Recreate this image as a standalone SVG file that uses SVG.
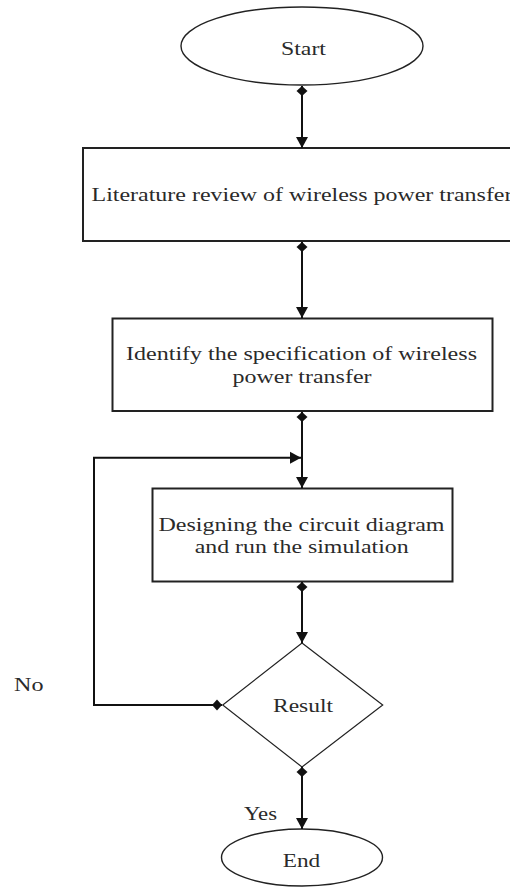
<svg xmlns="http://www.w3.org/2000/svg" width="510" height="888" viewBox="0 0 510 888">
  <style>
    .shape { fill: #ffffff; stroke: #222222; }
    .box { stroke-width: 2; }
    .oval { stroke-width: 1.4; }
    .dec { stroke-width: 1.2; }
    .conn { fill: none; stroke: #111111; stroke-width: 2; }
    .lbl { font-family: "Liberation Serif", "Times New Roman", serif; font-size: 18.5px; fill: #2a2a2a; }
    .mid { text-anchor: middle; }
  </style>
  <defs>
    <marker id="dia" markerUnits="userSpaceOnUse" markerWidth="12" markerHeight="14" refX="0" refY="6" orient="auto" viewBox="0 0 12 12" overflow="visible">
      <path d="M0,6 L5,0.5 L10,6 L5,11.5 Z" fill="#111111"/>
    </marker>
    <marker id="arr" markerUnits="userSpaceOnUse" markerWidth="12" markerHeight="14" refX="11" refY="6" orient="auto" viewBox="0 0 12 12" overflow="visible">
      <path d="M0,0 L11,6 L0,12 Z" fill="#111111"/>
    </marker>
  </defs>

  <rect width="510" height="888" fill="#ffffff"/>

  <g id="start">
    <ellipse class="shape oval" cx="302" cy="46" rx="121" ry="39"/>
    <text class="lbl mid" x="303.5" y="54.5" textLength="45" lengthAdjust="spacingAndGlyphs">Start</text>
  </g>

  <g id="literature">
    <rect class="shape box" x="83" y="148" width="440" height="93"/>
    <text class="lbl mid" x="302" y="201" textLength="421" lengthAdjust="spacingAndGlyphs">Literature review of wireless power transfer</text>
  </g>

  <g id="identify">
    <rect class="shape box" x="112.5" y="318.5" width="380" height="92.5"/>
    <text class="lbl mid" x="301.5" y="359.5" textLength="351" lengthAdjust="spacingAndGlyphs">Identify the specification of wireless</text>
    <text class="lbl mid" x="302" y="382.5" textLength="139" lengthAdjust="spacingAndGlyphs">power transfer</text>
  </g>

  <g id="design">
    <rect class="shape box" x="152.5" y="488.5" width="300" height="93"/>
    <text class="lbl mid" x="301.5" y="530.5" textLength="286" lengthAdjust="spacingAndGlyphs">Designing the circuit diagram</text>
    <text class="lbl mid" x="301.7" y="553" textLength="214" lengthAdjust="spacingAndGlyphs">and run the simulation</text>
  </g>

  <g id="result">
    <polygon class="shape dec" points="302,643 382.7,705 302,767 222.7,705"/>
    <text class="lbl mid" x="303" y="711.5" textLength="60" lengthAdjust="spacingAndGlyphs">Result</text>
  </g>

  <g id="end">
    <ellipse class="shape oval" cx="302" cy="857.5" rx="80.5" ry="28.5"/>
    <text class="lbl mid" x="301.5" y="866.5" textLength="37.5" lengthAdjust="spacingAndGlyphs">End</text>
  </g>

  <g id="connectors">
    <path class="conn" d="M302,86 L302,148" marker-start="url(#dia)" marker-end="url(#arr)"/>
    <path class="conn" d="M302,242 L302,318" marker-start="url(#dia)" marker-end="url(#arr)"/>
    <path class="conn" d="M302,412 L302,488" marker-start="url(#dia)" marker-end="url(#arr)"/>
    <path class="conn" d="M302,582 L302,643" marker-start="url(#dia)" marker-end="url(#arr)"/>
    <path class="conn" d="M302,767 L302,829" marker-start="url(#dia)" marker-end="url(#arr)"/>
    <path class="conn" d="M222,705 L94,705 L94,457.7 L301,457.7" marker-start="url(#dia)" marker-end="url(#arr)"/>
    <text class="lbl" x="14" y="690.5" textLength="29.5" lengthAdjust="spacingAndGlyphs">No</text>
    <text class="lbl" x="244" y="820" textLength="33" lengthAdjust="spacingAndGlyphs">Yes</text>
  </g>
</svg>
